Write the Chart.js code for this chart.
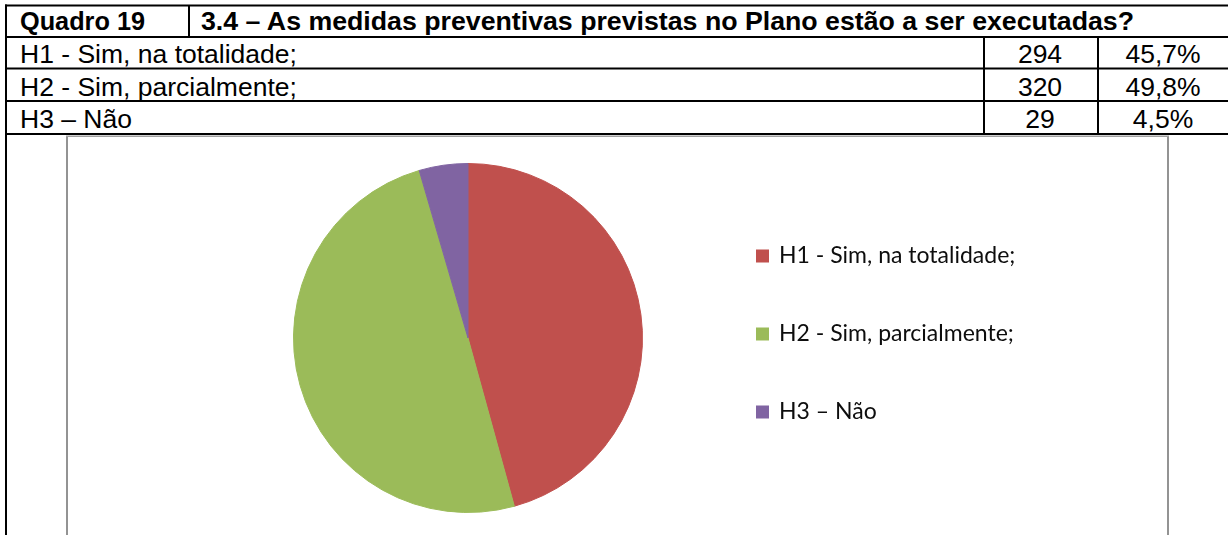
<!DOCTYPE html>
<html>
<head>
<meta charset="utf-8">
<script src="https://cdn.jsdelivr.net/npm/chart.js@4.4.1/dist/chart.umd.min.js"></script>
<style>
  html, body { margin: 0; padding: 0; background: #fff; width: 1228px; height: 535px; overflow: hidden; }
  #tbl { position: absolute; left: 0; top: 0; }
  #c { position: absolute; left: 69px; top: 137px; }
</style>
</head>
<body>
<svg id="tbl" width="1228" height="535" xmlns="http://www.w3.org/2000/svg"></svg>
<canvas id="c" width="1097" height="398" style="width:1097px;height:398px"></canvas>
<script>
// ---- data ----
const quadroLabel = 'Quadro 19';
const question = '3.4 – As medidas preventivas previstas no Plano estão a ser executadas?';
const categories = ['H1 - Sim, na totalidade;', 'H2 - Sim, parcialmente;', 'H3 – Não'];
const counts = [294, 320, 29];
const percents = ['45,7%', '49,8%', '4,5%'];
const colors = ['#C0504D', '#9BBB59', '#8064A2'];

// ---- table (SVG) ----
const NS = 'http://www.w3.org/2000/svg';
const svg = document.getElementById('tbl');
function line(x1, y1, x2, y2, color, w) {
  const l = document.createElementNS(NS, 'line');
  l.setAttribute('x1', x1); l.setAttribute('y1', y1);
  l.setAttribute('x2', x2); l.setAttribute('y2', y2);
  l.setAttribute('stroke', color); l.setAttribute('stroke-width', w);
  svg.appendChild(l);
}
function text(str, x, y, opts) {
  const t = document.createElementNS(NS, 'text');
  t.setAttribute('x', x); t.setAttribute('y', y);
  t.setAttribute('font-family', '"Liberation Sans", Arial, sans-serif');
  t.setAttribute('font-size', '26.5');
  t.setAttribute('fill', '#000');
  if (opts.bold) t.setAttribute('font-weight', 'bold');
  if (opts.anchor) t.setAttribute('text-anchor', opts.anchor);
  if (opts.len) { t.setAttribute('textLength', opts.len); t.setAttribute('lengthAdjust', 'spacingAndGlyphs'); }
  t.textContent = str;
  svg.appendChild(t);
}
const rowLines = [5.5, 37, 68.5, 101, 134];
rowLines.forEach(y => line(5, y, 1228, y, '#000', 2));
line(6, 4.5, 6, 535, '#000', 2);
line(189, 5.5, 189, 37, '#000', 2);
line(984, 37, 984, 134, '#000', 2);
line(1098, 37, 1098, 134, '#000', 2);
// chart frame
line(67, 136, 67, 535, '#939393', 2);
line(1168, 136, 1168, 535, '#939393', 2);
line(66, 136.3, 1169, 136.3, '#a0a0a0', 1.5);

text(quadroLabel, 20, 30, { bold: true, len: 125 });
text(question, 201, 30, { bold: true, len: 933 });
const baselines = [63, 95.5, 128];
categories.forEach((c, i) => {
  text(c, 20, baselines[i], {});
  text(String(counts[i]), 1040, baselines[i], { anchor: 'middle' });
  text(percents[i], 1163, baselines[i], { anchor: 'middle' });
});

// ---- chart ----
const legendFamily = 'Lato';
const mctx = document.createElement('canvas').getContext('2d');
mctx.font = '100px ' + legendFamily;
const refW = mctx.measureText(categories[0]).width;
const legendSize = Math.round(100 * 236 / refW * 10) / 10;
mctx.font = legendSize + 'px ' + legendFamily;
const maxTextW = Math.max(...categories.map(t => mctx.measureText(t).width));
const boxW = 10;          // filled part; a 3px stroke makes it 13px visually
const boxStroke = 3;
const itemW = boxW + legendSize / 2 + maxTextW;
const legendPad = 78 - legendSize;
const cvLeft = 69, cvTop = 137, cvW = 1097, cvH = 398;
const boxLeftTarget = 757.5;
const padR = cvLeft + cvW - boxLeftTarget - itemW - 10;
const chartRight = boxLeftTarget - legendPad;
const chartLeft = 2 * 468 - chartRight;
const padL = chartLeft - cvLeft;
const padT = 163 - cvTop;
const padB = cvTop + cvH - 513;

new Chart(document.getElementById('c'), {
  type: 'pie',
  data: {
    labels: categories,
    datasets: [{
      data: counts,
      backgroundColor: colors,
      borderColor: colors,
      borderWidth: 1,
      hoverOffset: 0,
      offset: 0
    }]
  },
  options: {
    responsive: false,
    animation: false,
    events: [],
    layout: { padding: { left: padL, right: padR, top: padT, bottom: padB } },
    plugins: {
      tooltip: { enabled: false },
      legend: {
        position: 'right',
        align: 'center',
        title: { display: true, text: '', font: { size: 1, lineHeight: 1 }, padding: { top: -9, bottom: 0 } },
        labels: {
          boxWidth: boxW,
          boxHeight: boxW,
          padding: legendPad,
          color: '#0d0d0d',
          font: { family: legendFamily, size: legendSize },
          generateLabels(chart) {
            const items = Chart.overrides.pie.plugins.legend.labels.generateLabels(chart);
            items.forEach(it => { it.lineWidth = boxStroke; });
            return items;
          }
        }
      }
    }
  }
});
</script>
</body>
</html>
